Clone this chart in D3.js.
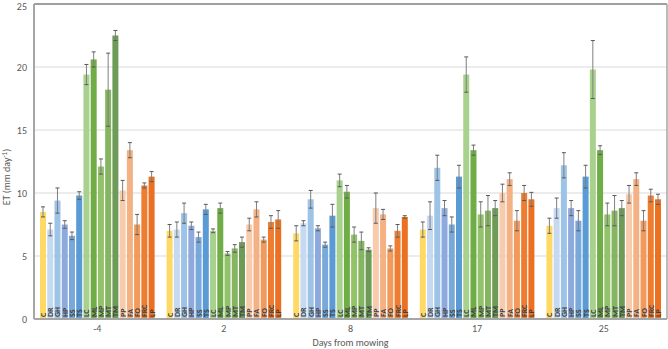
<!DOCTYPE html>
<html lang="en">
<head>
    <meta charset="UTF-8">
    <title>ET by days from mowing</title>
    <script src="https://d3js.org/d3.v7.min.js"></script>
    <style>
        body { margin: 0; background: #fff; }
        text { font-family: Calibri, 'Liberation Sans', 'DejaVu Sans', sans-serif; fill: #595959; }
        .barlab { font-size: 8px; font-weight: bold; fill: #404040; }
    </style>
</head>
<body>
<script>

    const width  = 668;
    const height = 349;

    const days    = ['-4', '2', '8', '17', '25'];
    const species = ['C','DR','GH','HP','SS','TS','LC','ML','MP','MT','TM','PP','FA','FO','FRC','LP'];
    const colors  = ['#FFD966','#C5D9F0','#9DC3E6','#8EA9DB','#79A9DA','#5B9BD5',
                     '#A9D18E','#70AD47','#92C36B','#85B561','#6E9C58',
                     '#F8CBAD','#F4B183','#F19A5B','#EE7D31','#EC7021'];
    const yTicks  = [0, 5, 10, 15, 20, 25];

    // mean ET per species, one array per day
    const etDayM4 = [8.5, 7.1, 9.4, 7.5, 6.6, 9.8, 19.4, 20.6, 12.1, 18.2, 22.5, 10.2, 13.4, 7.5, 10.6, 11.3];
    const etDay2  = [7.0, 7.1, 8.4, 7.4, 6.5, 8.7, 7.0, 8.8, 5.2, 5.6, 6.1, 7.5, 8.7, 6.3, 7.7, 7.9];
    const etDay8  = [6.8, 7.6, 9.5, 7.2, 5.9, 8.2, 11.0, 10.1, 6.7, 6.2, 5.5, 8.8, 8.3, 5.6, 7.0, 8.1];
    const etDay17 = [7.1, 8.2, 12.0, 8.8, 7.5, 11.3, 19.4, 13.4, 8.3, 8.6, 8.8, 10.0, 11.1, 7.8, 10.0, 9.5];
    const etDay25 = [7.4, 8.8, 12.2, 8.8, 7.8, 11.3, 19.8, 13.4, 8.3, 8.6, 8.8, 9.9, 11.1, 7.8, 9.8, 9.5];

    // standard errors, same order
    const seDayM4 = [0.4, 0.5, 1.0, 0.3, 0.3, 0.3, 0.8, 0.6, 0.6, 2.9, 0.4, 0.8, 0.6, 0.8, 0.2, 0.4];
    const seDay2  = [0.5, 0.6, 0.8, 0.3, 0.4, 0.4, 0.15, 0.4, 0.15, 0.3, 0.4, 0.5, 0.6, 0.2, 0.5, 0.7];
    const seDay8  = [0.6, 0.2, 0.7, 0.2, 0.2, 0.9, 0.5, 0.5, 0.6, 0.7, 0.15, 1.2, 0.4, 0.2, 0.5, 0.1];
    const seDay17 = [0.6, 1.1, 1.0, 0.6, 0.6, 0.9, 1.4, 0.4, 1.0, 1.2, 0.6, 0.7, 0.5, 0.8, 0.6, 0.55];
    const seDay25 = [0.6, 0.8, 1.0, 0.6, 0.8, 0.9, 2.3, 0.35, 0.9, 1.2, 0.6, 0.7, 0.5, 0.8, 0.5, 0.4];

    const means = [etDayM4, etDay2, etDay8, etDay17, etDay25];
    const errs  = [seDayM4, seDay2, seDay8, seDay17, seDay25];

    const pLeft = 34, pRight = 667, pTop = 4, pBottom = 319;

    const svg = d3.select("body")
            .append("svg")
            .attr("width", width)
            .attr("height", height);

    const y = d3.scaleLinear().domain([0, 25]).range([pBottom, pTop]);
    const x0 = d3.scaleBand().domain(days).range([pLeft, pRight]);
    const x1 = d3.scaleBand().domain(species)
            .range([6, x0.bandwidth() - 6])
            .paddingInner(0.17);

    // gridlines
    svg.append("g")
        .selectAll("line")
        .data(yTicks.filter(t => t > 0 && t < 25))
        .enter().append("line")
        .attr("x1", pLeft).attr("x2", pRight)
        .attr("y1", d => y(d)).attr("y2", d => y(d))
        .attr("stroke", "#D9D9D9").attr("stroke-width", 1);

    // y axis
    const yAxis = d3.axisLeft(y).tickValues(yTicks).tickSize(0).tickPadding(7);
    const gy = svg.append("g").attr("transform", "translate(" + pLeft + ",0)").call(yAxis);
    gy.select(".domain").remove();
    gy.selectAll("text").style("font-size", "10px").attr("fill", "#595959")
        .attr("dy", d => d === 25 ? "0.55em" : "0.32em");

    // x axis (group labels)
    const xAxis = d3.axisBottom(x0).tickSize(0).tickPadding(6);
    const gx = svg.append("g").attr("transform", "translate(0," + pBottom + ")").call(xAxis);
    gx.select(".domain").remove();
    gx.selectAll("text").style("font-size", "10px").attr("fill", "#595959");

    const rows = [];
    days.forEach((d, gi) => species.forEach((s, si) => {
        rows.push({day: d, sp: s, color: colors[si], v: means[gi][si], e: errs[gi][si]});
    }));

    const bars = svg.append("g")
        .selectAll("g")
        .data(rows)
        .enter().append("g")
        .attr("transform", d => "translate(" + (x0(d.day) + x1(d.sp)) + ",0)");

    bars.append("rect")
        .attr("x", 0)
        .attr("width", x1.bandwidth())
        .attr("y", d => y(d.v))
        .attr("height", d => y(0) - y(d.v))
        .attr("fill", d => d.color);

    const bw = x1.bandwidth();
    bars.append("line")
        .attr("x1", bw / 2).attr("x2", bw / 2)
        .attr("y1", d => y(d.v + d.e)).attr("y2", d => y(d.v - d.e))
        .attr("stroke", "#7F7F7F").attr("stroke-width", 1);
    bars.append("line")
        .attr("x1", bw / 2 - 2).attr("x2", bw / 2 + 2)
        .attr("y1", d => y(d.v + d.e)).attr("y2", d => y(d.v + d.e))
        .attr("stroke", "#595959").attr("stroke-width", 1);
    bars.append("line")
        .attr("x1", bw / 2 - 2).attr("x2", bw / 2 + 2)
        .attr("y1", d => y(d.v - d.e)).attr("y2", d => y(d.v - d.e))
        .attr("stroke", "#595959").attr("stroke-width", 1);

    bars.append("text")
        .attr("class", "barlab")
        .attr("transform", "translate(" + (bw / 2 + 3) + "," + (pBottom - 2) + ") rotate(-90)")
        .text(d => d.sp);

    // frame
    svg.append("line").attr("x1", pLeft).attr("x2", pRight).attr("y1", pTop).attr("y2", pTop)
        .attr("stroke", "#404040").attr("stroke-width", 1.2);
    svg.append("line").attr("x1", pRight).attr("x2", pRight).attr("y1", pTop).attr("y2", pBottom)
        .attr("stroke", "#A6A6A6").attr("stroke-width", 1.5);
    svg.append("line").attr("x1", pLeft).attr("x2", pLeft).attr("y1", pTop).attr("y2", pBottom)
        .attr("stroke", "#A6A6A6").attr("stroke-width", 2);
    svg.append("line").attr("x1", pLeft).attr("x2", pRight).attr("y1", pBottom).attr("y2", pBottom)
        .attr("stroke", "#A6A6A6").attr("stroke-width", 2);

    // axis titles
    svg.append("text")
        .attr("x", (pLeft + pRight) / 2).attr("y", 346)
        .attr("text-anchor", "middle")
        .style("font-size", "10px")
        .text("Days from mowing");

    const yt = svg.append("text")
        .attr("transform", "translate(10,177) rotate(-90)")
        .attr("text-anchor", "middle")
        .style("font-size", "10px");
    yt.append("tspan").text("ET (mm day");
    yt.append("tspan").attr("dy", -3).style("font-size", "7px").text("-1");
    yt.append("tspan").attr("dy", 3).text(")");

</script>
</body>
</html>
